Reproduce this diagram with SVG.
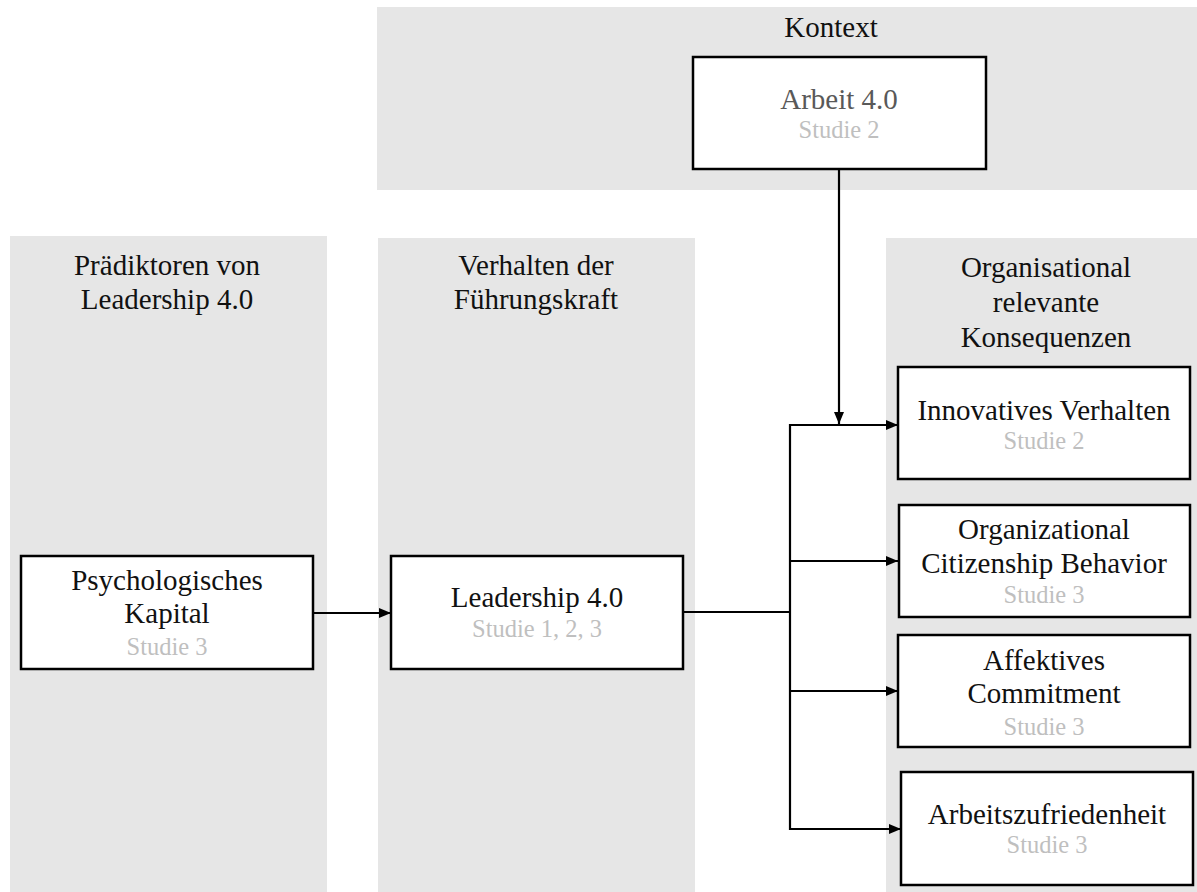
<svg xmlns="http://www.w3.org/2000/svg" width="1197" height="892" viewBox="0 0 1197 892">
<style>
.panel{fill:#e6e6e6}
.box{fill:#fff;stroke:#000;stroke-width:2.5}
.h{font-family:"Liberation Serif","Times New Roman",serif;font-size:29px;fill:#111;text-anchor:middle}
.t{font-family:"Liberation Serif","Times New Roman",serif;font-size:29px;fill:#111;text-anchor:middle}
.g{font-family:"Liberation Serif","Times New Roman",serif;font-size:24.5px;fill:#bfbfbf;text-anchor:middle}
.c{fill:none;stroke:#000;stroke-width:2.2}
</style>
<defs>
<marker id="arr" markerWidth="12" markerHeight="12" refX="12" refY="5.5" orient="auto" markerUnits="userSpaceOnUse">
<path d="M0,0.5 L12,5.5 L0,10.5 Z" fill="#000"/>
</marker>
</defs>
<g id="panels">
<rect class="panel" x="377" y="7" width="820" height="183"/>
<rect class="panel" x="10" y="236" width="317" height="656"/>
<rect class="panel" x="378" y="238" width="317" height="654"/>
<rect class="panel" x="886" y="238" width="311" height="654"/>
<text class="h" x="831" y="37">Kontext</text>
<text class="h" x="167" y="275">Prädiktoren von</text>
<text class="h" x="167" y="309">Leadership 4.0</text>
<text class="h" x="536" y="275">Verhalten der</text>
<text class="h" x="536" y="309">Führungskraft</text>
<text class="h" x="1046" y="277">Organisational</text>
<text class="h" x="1046" y="312">relevante</text>
<text class="h" x="1046" y="347">Konsequenzen</text>
</g>
<g id="connectors">
<line class="c" x1="839" y1="169" x2="839" y2="424" marker-end="url(#arr)"/>
<line class="c" x1="313" y1="613" x2="391" y2="613" marker-end="url(#arr)"/>
<polyline class="c" points="683,612 790,612"/>
<line class="c" x1="790" y1="424" x2="790" y2="830"/>
<line class="c" x1="789" y1="425" x2="898" y2="425" marker-end="url(#arr)"/>
<line class="c" x1="790" y1="561" x2="898" y2="561" marker-end="url(#arr)"/>
<line class="c" x1="790" y1="691" x2="898" y2="691" marker-end="url(#arr)"/>
<line class="c" x1="789" y1="829" x2="901" y2="829" marker-end="url(#arr)"/>
</g>
<g id="arbeit">
<rect class="box" x="693" y="57" width="293" height="112"/>
<text class="t" x="839" y="109" style="fill:#595959">Arbeit 4.0</text>
<text class="g" x="839" y="138">Studie 2</text>
</g>
<g id="psychkap">
<rect class="box" x="21" y="556" width="292" height="113"/>
<text class="t" x="167" y="590">Psychologisches</text>
<text class="t" x="167" y="623">Kapital</text>
<text class="g" x="167" y="655">Studie 3</text>
</g>
<g id="leadership">
<rect class="box" x="391" y="556" width="292" height="113"/>
<text class="t" x="537" y="607">Leadership 4.0</text>
<text class="g" x="537" y="637">Studie 1, 2, 3</text>
</g>
<g id="innovativ">
<rect class="box" x="898" y="367" width="292" height="112"/>
<text class="t" x="1044" y="420">Innovatives Verhalten</text>
<text class="g" x="1044" y="449">Studie 2</text>
</g>
<g id="ocb">
<rect class="box" x="899" y="505" width="291" height="112"/>
<text class="t" x="1044" y="539">Organizational</text>
<text class="t" x="1044" y="573">Citizenship Behavior</text>
<text class="g" x="1044" y="603">Studie 3</text>
</g>
<g id="affektiv">
<rect class="box" x="898" y="635" width="292" height="112"/>
<text class="t" x="1044" y="670">Affektives</text>
<text class="t" x="1044" y="703">Commitment</text>
<text class="g" x="1044" y="735">Studie 3</text>
</g>
<g id="zufriedenheit">
<rect class="box" x="901" y="772" width="292" height="113"/>
<text class="t" x="1047" y="824">Arbeitszufriedenheit</text>
<text class="g" x="1047" y="853">Studie 3</text>
</g>
</svg>
